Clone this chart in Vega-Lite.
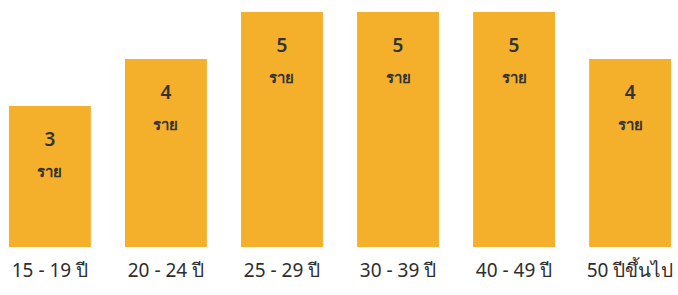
{
  "$schema": "https://vega.github.io/schema/vega-lite/v6.json",
  "width": 676,
  "height": 235,
  "autosize": {"type": "none"},
  "padding": {"left": 2, "top": 12, "right": 0, "bottom": 48},
  "background": "#ffffff",
  "config": {"view": {"stroke": null}},
  "data": {"values": [
    {"group": "15 - 19 ปี", "count": 3, "unit": "ราย"},
    {"group": "20 - 24 ปี", "count": 4, "unit": "ราย"},
    {"group": "25 - 29 ปี", "count": 5, "unit": "ราย"},
    {"group": "30 - 39 ปี", "count": 5, "unit": "ราย"},
    {"group": "40 - 49 ปี", "count": 5, "unit": "ราย"},
    {"group": "50 ปีขึ้นไป", "count": 4, "unit": "ราย"}
  ]},
  "encoding": {
    "x": {"field": "group", "type": "nominal", "sort": null,
      "scale": {"paddingInner": 0.294, "paddingOuter": 0.06},
      "axis": {"title": null, "labelAngle": 0, "domain": false, "ticks": false, "labelPadding": 14,
        "labelFontSize": 19, "labelColor": "#2e2e2e", "labelFont": "Noto Sans", "labelBaseline": "top"}},
    "y": {"field": "count", "type": "quantitative", "scale": {"domain": [0, 5]}, "axis": null}
  },
  "layer": [
    {"mark": {"type": "bar", "color": "#F5B02B"}},
    {"mark": {"type": "text", "baseline": "middle", "dy": 34, "fontSize": 19, "fontWeight": 600, "color": "#333333", "font": "Noto Sans"},
     "encoding": {"text": {"field": "count"}}},
    {"mark": {"type": "text", "baseline": "middle", "dy": 66, "fontSize": 15, "fontWeight": "bold", "color": "#333333", "font": "Noto Sans"},
     "encoding": {"text": {"field": "unit"}}}
  ]
}
